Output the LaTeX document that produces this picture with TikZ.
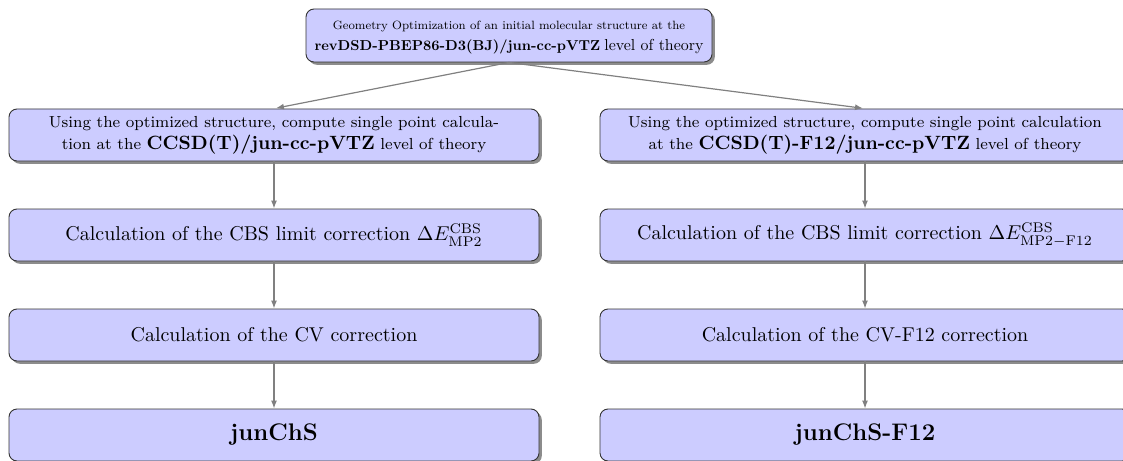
\documentclass[tikz,border=0pt]{standalone}
\usepackage{graphicx}
\usetikzlibrary{shadows,arrows.meta}
\begin{document}
\begin{tikzpicture}[x=0.5pt,y=-0.5pt,
  stepbox/.style={draw=black!80, line width=0.45pt, fill=blue!20, rounded corners=4pt,
    drop shadow={shadow xshift=1.4pt, shadow yshift=-1.4pt, opacity=0.45, fill=black},
    align=center, minimum width=265pt, minimum height=26pt, inner sep=2pt},
  small/.style={font=\fontsize{8}{11}\selectfont},
  flow/.style={draw=black!50, line width=0.6pt, -{Latex[length=4pt,width=3pt]}}]
\useasboundingbox (0,0) rectangle (1123,460);

% starting geometry (its text set at three quarters size)
\node[stepbox, minimum width=203pt, minimum height=26.5pt] (geo) at (509,35.5)
  {\scalebox{0.75}{\fontsize{8}{14}\selectfont
   \begin{tabular}{@{}c@{}}
   Geometry Optimization of an initial molecular structure at the\\
   {\fontsize{9.6}{11}\bfseries revDSD-PBEP86-D3(BJ)/jun-cc-pVTZ}
   {\fontsize{10.6}{11}\selectfont level of theory}
   \end{tabular}}};

% left branch
\node[stepbox, small] (l1) at (274,135)
  {Using the optimized structure, compute single point calcula-\\
   tion at the {\fontsize{9.6}{11}\bfseries CCSD(T)/jun-cc-pVTZ} level of theory};
\node[stepbox] (l2) at (274,235)
  {Calculation of the CBS limit correction $\Delta E^{\mathrm{CBS}}_{\mathrm{MP2}}$};
\node[stepbox] (l3) at (274,335) {Calculation of the CV correction};
\node[stepbox, font=\large\bfseries] (l4) at (274,435) {junChS};

% right branch
\node[stepbox, small] (r1) at (865,135)
  {Using the optimized structure, compute single point calculation\\
   at the {\fontsize{9.6}{11}\bfseries CCSD(T)-F12/jun-cc-pVTZ} level of theory};
\node[stepbox] (r2) at (865,235)
  {Calculation of the CBS limit correction $\Delta E^{\mathrm{CBS}}_{\mathrm{MP2-F12}}$};
\node[stepbox] (r3) at (865,335) {Calculation of the CV-F12 correction};
\node[stepbox, font=\large\bfseries] (r4) at (865,435) {junChS-F12};

% connectors
\draw[flow, shorten >=1pt] (geo.south) -- (l1.north);
\draw[flow, shorten >=1pt] (geo.south) -- (r1.north);
\draw[flow] (l1) -- (l2);
\draw[flow] (l2) -- (l3);
\draw[flow] (l3) -- (l4);
\draw[flow] (r1) -- (r2);
\draw[flow] (r2) -- (r3);
\draw[flow] (r3) -- (r4);
\end{tikzpicture}
\end{document}
